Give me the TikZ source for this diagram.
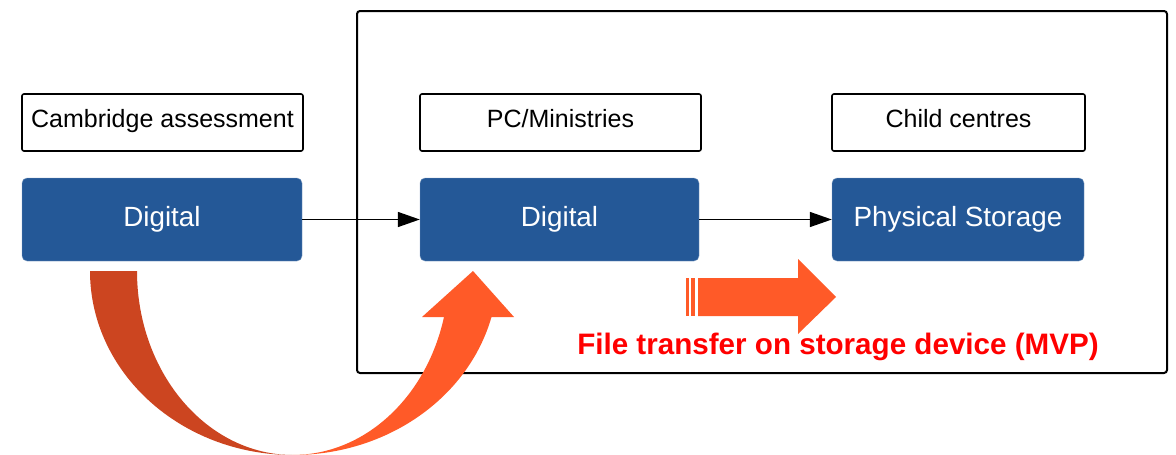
\documentclass[tikz,border=0pt]{standalone}
\usepackage{fontspec}
\setmainfont{Liberation Sans}
\usetikzlibrary{arrows.meta}
\definecolor{boxblue}{HTML}{245897}
\definecolor{curvedark}{HTML}{CC4520}
\definecolor{curvelight}{HTML}{FF5A28}
\definecolor{textred}{HTML}{FF0000}
\tikzset{
  labelbox/.style={draw=black, line width=1.6pt, rounded corners=2pt, fill=white, inner sep=0pt, text height=17pt, text depth=7pt, font=\fontsize{25}{29}\selectfont},
  bluebox/.style={fill=boxblue, draw=boxblue!60, line width=0.4pt, rounded corners=5pt, inner sep=0pt, text=white, font=\fontsize{27.8}{32}\selectfont},
  flow/.style={draw=black, line width=1.5pt, -{Triangle[length=22pt,width=15pt]}},
}
\begin{document}
\begin{tikzpicture}[x=1pt,y=-1pt]
\useasboundingbox (0,0) rectangle (1176,455);
% outer frame
\draw[line width=2pt, rounded corners=3pt] (357,11) rectangle (1167,373);
% label boxes
\node[labelbox, minimum width=281pt, minimum height=57pt] (lab1) at (162.5,122.5) {Cambridge assessment};
\node[labelbox, minimum width=281pt, minimum height=57pt] (lab2) at (560.5,122.5) {PC/Ministries};
\node[labelbox, minimum width=253pt, minimum height=57pt] (lab3) at (958.5,122.5) {Child centres};
% blue boxes
\node[bluebox, minimum width=280pt, minimum height=83pt] (d1) at (162,219.5) {Digital};
\node[bluebox, minimum width=279pt, minimum height=83pt] (d2) at (559.5,219.5) {Digital};
\node[bluebox, minimum width=252pt, minimum height=83pt] (ps) at (958,219.5) {Physical Storage};
% connectors
\draw[flow] (d1.east) -- (d2.west);
\draw[flow] (d2.east) -- (ps.west);
% curved arrow
\fill[curvedark] (90,271) arc[start angle=180, end angle=90, x radius=203, y radius=184]
  arc[start angle=90, end angle=180, x radius=156, y radius=184] -- cycle;
\fill[curvelight] (293,455) arc[start angle=90, end angle=14.5, x radius=205, y radius=184]
  -- (514,317) -- (473,271) -- (422,317) -- (444,317)
  arc[start angle=14.5, end angle=90, x radius=156, y radius=184] -- cycle;
% striped block arrow
\fill[curvelight] (686,278) rectangle (689,316);
\fill[curvelight] (691,278) rectangle (695,316);
\fill[curvelight] (698,278) -- (798,278) -- (798,259) -- (836,297) -- (798,334) -- (798,316) -- (698,316) -- cycle;
\node[text=textred, font=\bfseries\fontsize{29.6}{34}\selectfont] (cap) at (838,347) {File transfer on storage device (MVP)};
\end{tikzpicture}
\end{document}
